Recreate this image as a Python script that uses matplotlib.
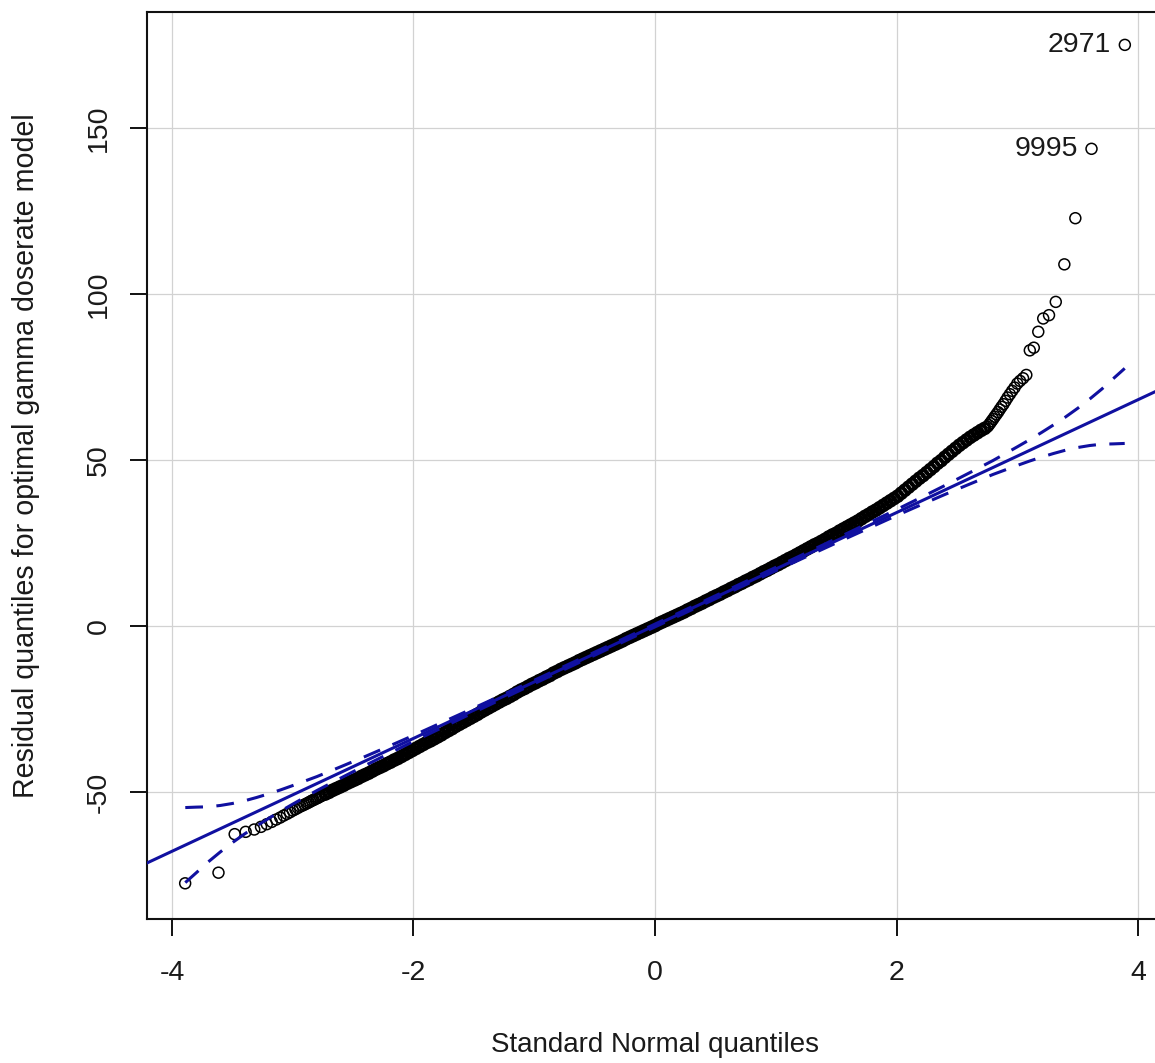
import matplotlib
matplotlib.use("Agg")
import matplotlib.pyplot as plt
import numpy as np

plt.rcParams['font.family'] = ['Liberation Sans', 'DejaVu Sans']
plt.rcParams['axes.unicode_minus'] = False

# ---------------- data ----------------
# lower tail points (normal quantile, residual quantile)
lower_x = [-3.891, -3.615, -3.481, -3.390, -3.319, -3.263, -3.215, -3.174, -3.137, -3.104,
           -3.075, -3.048, -3.023, -3.000, -2.978, -2.958, -2.939, -2.920, -2.903, -2.886,
           -2.870, -2.855, -2.841, -2.827, -2.813, -2.800, -2.788, -2.776, -2.764, -2.753]
lower_y = [-77.5, -74.3, -62.7, -62.0, -61.3, -60.5, -59.7, -59.0, -58.3, -57.7,
           -57.1, -56.6, -56.1, -55.6, -55.2, -54.8, -54.4, -54.1, -53.8, -53.5,
           -53.2, -52.9, -52.6, -52.4, -52.1, -51.9, -51.7, -51.4, -51.2, -51.0]

# dense central band
band_x = [-2.73, -2.70, -2.67, -2.64, -2.61, -2.58, -2.55, -2.52, -2.49, -2.46,
          -2.43, -2.40, -2.37, -2.34, -2.31, -2.28, -2.25, -2.22, -2.19, -2.16,
          -2.13, -2.10, -2.07, -2.04, -2.01, -1.98, -1.95, -1.92, -1.89, -1.86,
          -1.83, -1.80, -1.77, -1.74, -1.71, -1.68, -1.65, -1.62, -1.59, -1.56,
          -1.53, -1.50, -1.47, -1.44, -1.41, -1.38, -1.35, -1.32, -1.29, -1.26,
          -1.23, -1.20, -1.17, -1.14, -1.11, -1.08, -1.05, -1.02, -0.99, -0.96,
          -0.93, -0.90, -0.87, -0.84, -0.81, -0.78, -0.75, -0.72, -0.69, -0.66,
          -0.63, -0.60, -0.57, -0.54, -0.51, -0.48, -0.45, -0.42, -0.39, -0.36,
          -0.33, -0.30, -0.27, -0.24, -0.21, -0.18, -0.15, -0.12, -0.09, -0.06,
          -0.03,
          0.00, 0.03, 0.06, 0.09, 0.12, 0.15, 0.18, 0.21, 0.24, 0.27,
          0.30, 0.33, 0.36, 0.39, 0.42, 0.45, 0.48, 0.51, 0.54, 0.57,
          0.60, 0.63, 0.66, 0.69, 0.72, 0.75, 0.78, 0.81, 0.84, 0.87,
          0.90, 0.93, 0.96, 0.99, 1.02, 1.05, 1.08, 1.11, 1.14, 1.17,
          1.20, 1.23, 1.26, 1.29, 1.32, 1.35, 1.38, 1.41, 1.44, 1.47,
          1.50, 1.53, 1.56, 1.59, 1.62, 1.65, 1.68, 1.71, 1.74, 1.77,
          1.80, 1.83, 1.86, 1.89, 1.92, 1.95, 1.98, 2.01, 2.04, 2.07,
          2.10, 2.13, 2.16, 2.19, 2.22, 2.25, 2.28, 2.31, 2.34, 2.37,
          2.40, 2.43, 2.46, 2.49, 2.52, 2.55, 2.58, 2.61, 2.64, 2.67,
          2.70, 2.73]
band_y = [-50.6, -50.1, -49.5, -49.0, -48.5, -48.0, -47.4, -46.9, -46.4, -45.9,
          -45.3, -44.8, -44.3, -43.7, -43.1, -42.6, -42.1, -41.5, -41.0, -40.4,
          -39.9, -39.3, -38.7, -38.1, -37.5, -36.9, -36.3, -35.7, -35.1, -34.6,
          -34.0, -33.4, -32.8, -32.1, -31.5, -30.9, -30.2, -29.6, -29.0, -28.4,
          -27.8, -27.2, -26.6, -25.9, -25.3, -24.7, -24.1, -23.5, -22.9, -22.3,
          -21.8, -21.2, -20.6, -19.9, -19.3, -18.8, -18.2, -17.6, -17.1, -16.5,
          -16.0, -15.4, -14.9, -14.2, -13.7, -13.1, -12.6, -12.1, -11.6, -11.1,
          -10.5, -10.0, -9.5, -9.0, -8.5, -8.0, -7.5, -7.0, -6.5, -6.0,
          -5.5, -5.0, -4.5, -3.9, -3.4, -2.9, -2.4, -1.9, -1.4, -0.9,
          -0.4,
          0.1, 0.7, 1.2, 1.7, 2.2, 2.7, 3.2, 3.7, 4.2, 4.8,
          5.3, 5.9, 6.4, 6.9, 7.5, 8.0, 8.6, 9.1, 9.6, 10.2,
          10.7, 11.3, 11.8, 12.4, 12.9, 13.5, 14.0, 14.6, 15.1, 15.7,
          16.3, 16.8, 17.4, 18.0, 18.5, 19.1, 19.7, 20.3, 20.8, 21.4,
          22.0, 22.6, 23.2, 23.8, 24.4, 24.9, 25.5, 26.1, 26.8, 27.4,
          27.9, 28.6, 29.2, 29.8, 30.4, 31.0, 31.6, 32.3, 33.0, 33.6,
          34.3, 34.9, 35.6, 36.3, 37.0, 37.7, 38.4, 39.1, 40.0, 40.9,
          41.8, 42.7, 43.6, 44.5, 45.3, 46.2, 47.1, 48.0, 49.0, 49.8,
          50.8, 51.7, 52.6, 53.5, 54.4, 55.2, 56.0, 56.8, 57.5, 58.2,
          58.9, 59.5]

# upper tail points
upper_x = [2.753, 2.764, 2.776, 2.788, 2.800, 2.813, 2.827, 2.841, 2.855, 2.870,
           2.886, 2.903, 2.920, 2.939, 2.958, 2.978, 3.000, 3.023, 3.048, 3.075,
           3.104, 3.137, 3.174, 3.215, 3.263, 3.319, 3.390, 3.481, 3.615, 3.891]
upper_y = [60.0, 60.5, 61.1, 61.7, 62.3, 63.0, 63.7, 64.4, 65.2, 66.0,
           66.8, 67.8, 68.8, 69.8, 70.8, 71.8, 73.0, 73.8, 74.6, 75.6,
           83.0, 83.8, 88.6, 92.6, 93.6, 97.6, 108.9, 122.8, 143.7, 175.0]

# labelled outliers
label_text = ['2971', '9995']
label_x = [3.891, 3.615]
label_y = [175.0, 143.7]

# reference line (intercept, slope)
line_intercept = 0.14
line_slope = 17.0

# pointwise confidence envelope: half-width around the reference line
env_z = [-3.89, -3.8, -3.7, -3.6, -3.5, -3.4, -3.3, -3.2, -3.1, -3.0,
         -2.8, -2.6, -2.4, -2.2, -2.0, -1.5, -1.0, -0.5, 0.0, 0.5,
         1.0, 1.5, 2.0, 2.2, 2.4, 2.6, 2.8, 3.0, 3.1, 3.2,
         3.3, 3.4, 3.5, 3.6, 3.7, 3.8, 3.89]
env_half = [11.3, 9.9, 8.3, 7.0, 5.9, 5.0, 4.3, 3.7, 3.2, 2.8,
            2.1, 1.7, 1.35, 1.1, 0.9, 0.65, 0.5, 0.45, 0.42, 0.45,
            0.5, 0.65, 0.9, 1.1, 1.35, 1.7, 2.1, 2.8, 3.2, 3.7,
            4.3, 5.0, 5.9, 7.0, 8.3, 9.9, 11.3]

x_ticks = [-4, -2, 0, 2, 4]
y_ticks = [-50, 0, 50, 100, 150]
x_label = "Standard Normal quantiles"
y_label = "Residual quantiles for optimal gamma doserate model"

# ---------------- figure ----------------
W, H = 1155, 1063
fig = plt.figure(figsize=(W / 100, H / 100), dpi=100)
left_px, right_px, top_px, bottom_px = 147, 1163, 12, 918.5
ax = fig.add_axes([left_px / W, 1 - bottom_px / H,
                   (right_px - left_px) / W, (bottom_px - top_px) / H])
ax.set_xlim(-4.207, 4.207)
ax.set_ylim(-88.1, 184.9)

text_col = '#1a1a1a'
blue = '#1010a0'

ax.set_axisbelow(True)
ax.grid(True, color='#d2d2d2', linewidth=0.9)

# tail points (sparse) drawn as plain open circles
tail_x = np.array(lower_x + upper_x)
tail_y = np.array(lower_y + upper_y)
ax.scatter(tail_x, tail_y, s=62, facecolors='none', edgecolors='black',
           linewidths=1.1, zorder=2)
# dense band: thousands of overlapping circles in the original -> heavier rings
ax.scatter(np.array(band_x), np.array(band_y), s=56, facecolors='none',
           edgecolors='black', linewidths=2.4, zorder=2)

ax.axline((0, line_intercept), slope=line_slope, color=blue, linewidth=2.2, zorder=3)

ez = np.array(env_z)
eh = np.array(env_half)
fit = line_intercept + line_slope * ez
dash = (0, (5.8, 4.4))
ax.plot(ez, fit + eh, color=blue, linewidth=2.2, linestyle=dash, zorder=3)
ax.plot(ez, fit - eh, color=blue, linewidth=2.2, linestyle=dash, zorder=3)

for t, lx, ly in zip(label_text, label_x, label_y):
    ax.annotate(t, xy=(lx, ly), xytext=(-10, 0), textcoords='offset points',
                ha='right', va='center', fontsize=20.5, color=text_col)

ax.set_xticks(x_ticks)
ax.set_xticklabels([str(v) for v in x_ticks])
ax.set_yticks(y_ticks)
ax.set_yticklabels([str(v) for v in y_ticks], rotation=90, va='center')
ax.tick_params(axis='both', length=12, width=1.4, colors='#111111',
               labelsize=20.5, labelcolor=text_col)
ax.tick_params(axis='x', pad=18)
ax.tick_params(axis='y', pad=13.5)

for s in ax.spines.values():
    s.set_linewidth(1.5)
    s.set_color('#111111')

fig.text(655 / W, 1 - 1045 / H, x_label, ha='center', va='center',
         fontsize=20, color=text_col)
fig.text(26 / W, 1 - 456 / H, y_label, ha='center', va='center',
         rotation=90, fontsize=20.6, color=text_col)

fig.savefig('out.png', dpi=100)
